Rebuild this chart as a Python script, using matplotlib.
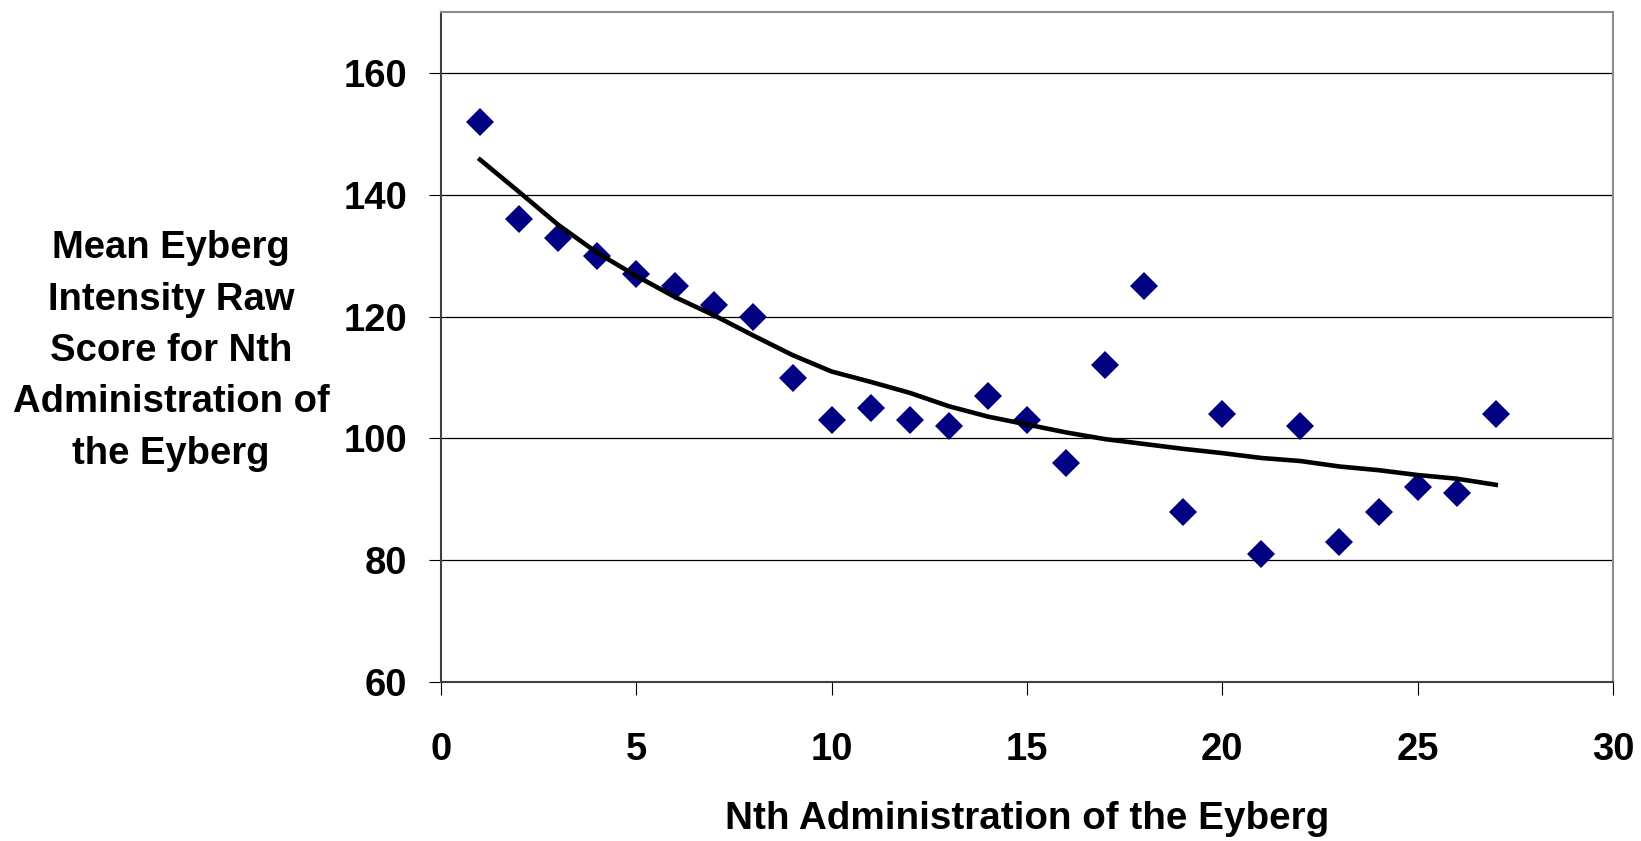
import matplotlib
matplotlib.use("Agg")
import matplotlib.pyplot as plt

# administration number and mean raw score
admin_n = list(range(1, 28))
mean_score = [152, 136, 133, 130, 127, 125, 122, 120, 110, 103,
              105, 103, 102, 107, 103, 96, 112, 125, 88, 104,
              81, 102, 83, 88, 92, 91, 104]

# trend line at each administration
trend = [145.8, 140.5, 135.1, 130.5, 126.7, 123.2, 120.2, 116.9, 113.7, 111.0,
         109.3, 107.5, 105.3, 103.6, 102.3, 101.0, 99.9, 99.1, 98.3, 97.6,
         96.8, 96.3, 95.4, 94.8, 94.0, 93.4, 92.4]

x_ticks = [0, 5, 10, 15, 20, 25, 30]
y_ticks = [60, 80, 100, 120, 140, 160]

plt.rcParams['font.family'] = ['Liberation Sans', 'DejaVu Sans']
plt.rcParams['font.weight'] = 'bold'

fig = plt.figure(figsize=(16.41, 8.41), dpi=100)
ax = fig.add_axes([0.2687, 0.189, 0.9829 - 0.2687, 0.9854 - 0.189])

ax.plot(admin_n, mean_score, linestyle='none', marker='D', markersize=14,
        color='#000080', markeredgewidth=0, zorder=3)
ax.plot(admin_n, trend, color='black', linewidth=3.3, zorder=4)

ax.set_xlim(0, 30)
ax.set_ylim(60, 170)
ax.set_xticks(x_ticks)
ax.set_yticks(y_ticks)
ax.yaxis.grid(True, color='black', linewidth=0.9)
ax.set_axisbelow(True)

ax.tick_params(axis='y', direction='out', length=9, width=0.8, pad=15,
               labelsize=27.5, colors='black')
ax.tick_params(axis='x', direction='out', length=9, width=0.8, pad=27,
               labelsize=27.5, colors='black')
for lbl in ax.get_xticklabels() + ax.get_yticklabels():
    lbl.set_fontweight('bold')

for side in ['left', 'bottom']:
    ax.spines[side].set_color('#404040')
    ax.spines[side].set_linewidth(1.5)
for side in ['top', 'right']:
    ax.spines[side].set_color('#8c8c8c')
    ax.spines[side].set_linewidth(1.5)

ax.set_xlabel('Nth Administration of the Eyberg', fontsize=27.8,
              fontweight='bold', labelpad=24)
fig.text(171 / 1641, 1 - 351 / 841,
         'Mean Eyberg\nIntensity Raw\nScore for Nth\nAdministration of\nthe Eyberg',
         ha='center', va='center', multialignment='center',
         fontsize=27.5, fontweight='bold', linespacing=1.55)

fig.savefig('out.png', dpi=100)
